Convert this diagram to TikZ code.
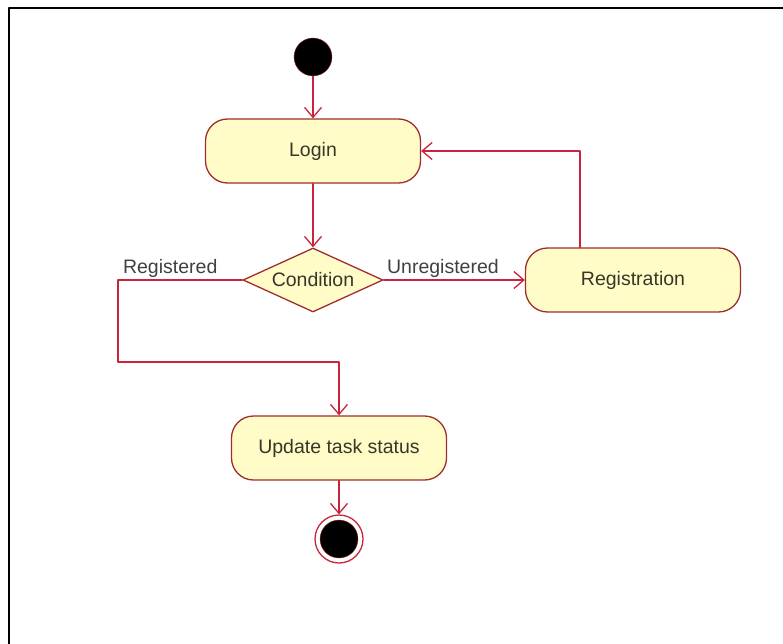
\documentclass[tikz,border=0pt]{standalone}
\usepackage{fontspec}
\setmainfont{Liberation Sans}
\usetikzlibrary{shapes.geometric,arrows.meta}
\definecolor{umlred}{RGB}{200,36,60}
\definecolor{umlfill}{RGB}{255,252,200}
\definecolor{umlborder}{RGB}{160,45,45}
\definecolor{umltext}{RGB}{55,55,40}
\begin{document}
\begin{tikzpicture}[x=1pt, y=-1pt, line join=round, line cap=round,
		font=\fontsize{19.5}{24}\selectfont,
		>={Straight Barb[length=10pt,width=17pt]},
		action/.style={draw=umlborder, fill=umlfill, rounded corners=22pt, line width=1.3pt,
			minimum width=215pt, minimum height=64pt, text=umltext},
		cond/.style={diamond, draw=umlborder, fill=umlfill, line width=1.3pt, aspect=2.2,
			minimum width=140pt, minimum height=64pt, inner sep=0pt, text=umltext},
		flow/.style={draw=umlred, line width=1.3pt, ->},
		guard/.style={text=black!75, inner sep=2pt}]
	\useasboundingbox (0,0) rectangle (783,644);
	% frame
	\draw[line width=2pt, line cap=butt] (9,644) -- (9,8) -- (783,8);
	% nodes
	\node[circle, fill=black, draw=umlborder, minimum size=38pt, inner sep=0pt] (start) at (313,57) {};
	\node[action] (login) at (313,151) {Login};
	\node[cond] (cond) at (313,280) {Condition};
	\node[action] (reg) at (633,280) {Registration};
	\node[action] (update) at (339,448) {Update task status};
	\node[circle, draw=umlred, line width=1.3pt, minimum size=48pt, inner sep=0pt] (stop) at (339,539) {};
	\node[circle, fill=black, draw=umlborder, minimum size=38pt, inner sep=0pt] (stopin) at (stop) {};
	\coordinate (bend) at (118,362);
	% flows
	\draw[flow] (start) -- (login);
	\draw[flow] (login) -- (cond);
	\draw[flow] (cond.east) -- node[guard, above, pos=0.42]{Unregistered} (reg.west);
	\draw[flow] ([xshift=-53pt]reg.north) |- (login.east);
	\draw[flow] (cond.west) -- node[guard, above, pos=0.58]{Registered} (cond.west -| bend)
		-- (bend) -- (bend -| update.north) -- (update.north);
	\draw[flow] (update) -- (stop);
\end{tikzpicture}
\end{document}
